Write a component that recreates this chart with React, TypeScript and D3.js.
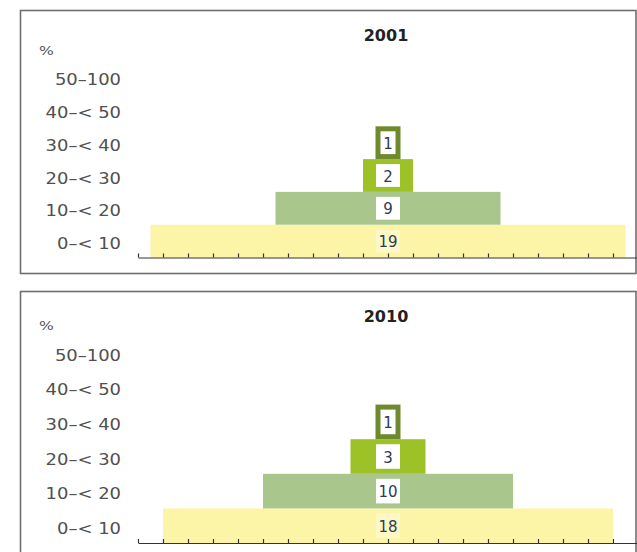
import React, { useEffect, useRef } from "react";
import * as d3 from "d3";

const categories = ["0–< 10", "10–< 20", "20–< 30", "30–< 40", "40–< 50", "50–100"];
const years = ["2001", "2010"];
const values2001 = [19, 9, 2, 1, 0, 0];
const values2010 = [18, 10, 3, 1, 0, 0];
const barColors = ["#fcf5a8", "#a9c68d", "#9cc228", "#6f8a2e", "#55701e", "#3e5214"];
const axisTicks = d3.range(-20, 21, 2);

const W = 637;
const H = 552;

type PanelSpec = { year: string; values: number[]; frameTop: number; frameH: number; axisY: number; band: number };

const panels: PanelSpec[] = [
  { year: years[0], values: values2001, frameTop: 10, frameH: 263, axisY: 257.5, band: 32.8 },
  { year: years[1], values: values2010, frameTop: 291, frameH: 275, axisY: 543, band: 34.6 },
];

export default function App() {
  const ref = useRef<SVGSVGElement>(null);

  useEffect(() => {
    const svg = d3.select(ref.current);
    svg.selectAll("*").remove();
    svg.append("rect").attr("width", W).attr("height", H).attr("fill", "#fff");

    const x = d3.scaleLinear().domain([-20, 20]).range([138, 638]);

    panels.forEach((p) => {
      const g = svg.append("g");
      g.append("rect")
        .attr("x", 20.5)
        .attr("y", p.frameTop + 0.5)
        .attr("width", 615.5)
        .attr("height", p.frameH)
        .attr("fill", "none")
        .attr("stroke", "#6e6e6e")
        .attr("stroke-width", 1.6);

      const y = d3
        .scaleBand<string>()
        .domain(categories)
        .range([p.axisY, p.axisY - categories.length * p.band])
        .padding(0);
      const bh = y.bandwidth();

      // title
      g.append("text")
        .attr("x", 386)
        .attr("y", p.frameTop + 25)
        .attr("text-anchor", "middle")
        .attr("dominant-baseline", "central")
        .attr("font-family", "DejaVu Sans, Verdana, sans-serif")
        .attr("font-weight", "bold")
        .attr("font-size", 16)
        .attr("fill", "#222")
        .text(p.year);

      // category labels
      categories.forEach((c) => {
        const cy = (y(c) as number) + bh / 2 + 2.5;
        g.append("g")
          .attr("transform", `translate(121,${cy}) scale(1.16,1)`)
          .append("text")
          .attr("text-anchor", "end")
          .attr("dominant-baseline", "central")
          .attr("font-family", "DejaVu Sans, Verdana, sans-serif")
          .attr("font-size", 15.5)
          .attr("fill", "#505050")
          .text(c);
      });
      const topY = y(categories[categories.length - 1]) as number;
      g.append("g")
        .attr("transform", `translate(39,${topY - 10}) scale(1.2,1)`)
        .append("text")
        .attr("dominant-baseline", "central")
        .attr("font-family", "DejaVu Sans, Verdana, sans-serif")
        .attr("font-size", 13)
        .attr("fill", "#555")
        .text("%");

      // bars
      categories.forEach((c, i) => {
        const v = p.values[i];
        if (v <= 0) return;
        const x0 = x(-v);
        const x1 = x(v);
        const by = y(c) as number;
        g.append("rect")
          .attr("x", x0)
          .attr("y", by)
          .attr("width", x1 - x0)
          .attr("height", bh)
          .attr("fill", barColors[i]);
        const bw = Math.min(24, x1 - x0 - 10);
        g.append("rect")
          .attr("x", x(0) - bw / 2)
          .attr("y", by + 5)
          .attr("width", bw)
          .attr("height", bh - 10)
          .attr("fill", "#fff")
          .attr("opacity", i === 0 ? 0.35 : 1);
        g.append("text")
          .attr("x", x(0))
          .attr("y", by + bh / 2 + 1)
          .attr("text-anchor", "middle")
          .attr("dominant-baseline", "central")
          .attr("font-family", "DejaVu Sans, Verdana, sans-serif")
          .attr("font-size", 15)
          .attr("fill", "#2d3b55")
          .text(String(v));
      });

      // axis
      const axis = d3
        .axisTop(x)
        .tickValues(axisTicks)
        .tickSize(4)
        .tickSizeOuter(0)
        .tickFormat(() => "");
      const ag = g.append("g").attr("transform", `translate(0,${p.axisY})`).call(axis);
      ag.select(".domain").attr("stroke", "#333").attr("stroke-width", 1.2);
      ag.selectAll(".tick line").attr("stroke", "#333").attr("stroke-width", 1.2);
    });
  }, []);

  return (
    <svg
      ref={ref}
      width={W}
      height={H}
      style={{ position: "absolute", left: 0, top: 0, display: "block" }}
    />
  );
}
